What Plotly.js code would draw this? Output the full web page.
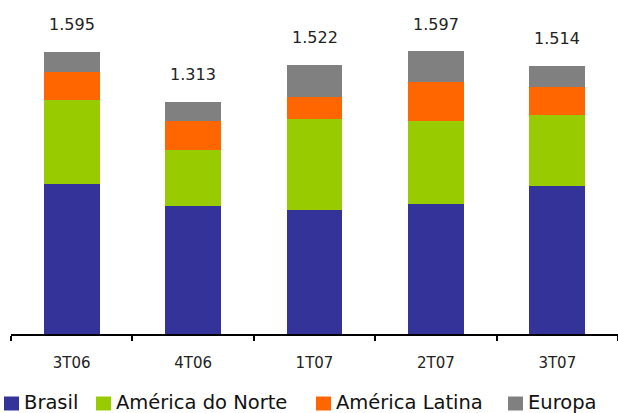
<!DOCTYPE html>
<html><head><meta charset="utf-8">
<script src="https://cdn.plot.ly/plotly-3.0.1.min.js"></script>
<style>html,body{margin:0;padding:0;background:#fff}#c{width:618px;height:413px}</style>
</head><body><div id="c"></div>
<script>
const categories = ['3T06','4T06','1T07','2T07','3T07'];
const brasil = [850, 725, 700, 735, 837];
const americaNorte = [474, 316, 517, 467, 401];
const americaLatina = [158, 162, 124, 222, 156];
const europa = [113, 109, 181, 173, 120];
const totals = [1595, 1313, 1522, 1597, 1514];
const totalLabels = ['1.595','1.313','1.522','1.597','1.514'];

const seriesNames = ['Brasil','América do Norte','América Latina','Europa'];
const seriesColors = ['#333399','#99CC00','#FF6600','#808080'];
const seriesValues = [brasil, americaNorte, americaLatina, europa];

// layout geometry (pixels)
const W = 618, H = 413, ML = 11, MR = 0, MT = 33, MB = 79;
const PW = W - ML - MR, PH = H - MT - MB;
const px2x = p => (p - ML) / PW;
const px2y = p => (H - MB - p) / PH;
const legendX = [4, 96, 316, 508];
const legendSq = 15, legendTop = 396.5, legendBot = 410.5, legendTextY = 402;

const traces = seriesValues.map((v,i)=>({
  type:'bar', name:seriesNames[i], x:categories, y:v,
  marker:{color:seriesColors[i], line:{width:0}}, hoverinfo:'skip', showlegend:false
}));

const annotations = categories.map((c,i)=>({
  x:c, y:totals[i], xref:'x', yref:'y', text:totalLabels[i], showarrow:false,
  yanchor:'middle', yshift:27, font:{family:'DejaVu Sans', size:16, color:'#222'}
}));
const shapes = [];
seriesNames.forEach((n,i)=>{
  shapes.push({type:'rect', xref:'paper', yref:'paper',
    x0:px2x(legendX[i]), x1:px2x(legendX[i]+legendSq), y0:px2y(legendBot), y1:px2y(legendTop),
    fillcolor:seriesColors[i], line:{width:0}});
  annotations.push({xref:'paper', yref:'paper', x:px2x(legendX[i]+legendSq+4), y:px2y(legendTextY),
    xanchor:'left', yanchor:'middle', text:n, showarrow:false, borderpad:0,
    font:{family:'DejaVu Sans', size:19.5, color:'#111'}});
});

const layout = {
  width:W, height:H, barmode:'stack', bargap:0.54,
  margin:{l:ML, r:MR, t:MT, b:MB},
  paper_bgcolor:'#fff', plot_bgcolor:'#fff',
  font:{family:'DejaVu Sans', color:'#222'},
  xaxis:{type:'category', range:[-0.5,4.5], showline:true, linecolor:'#000', linewidth:2,
    ticks:'outside', tickson:'boundaries', ticklen:5, tickwidth:2, tickcolor:'#000',
    ticklabelstandoff:14,
    tickfont:{family:'DejaVu Sans', size:15, color:'#222'}, showgrid:false, zeroline:false},
  yaxis:{range:[0,1700], visible:false, showgrid:false, zeroline:false},
  showlegend:false,
  shapes:shapes,
  annotations:annotations
};
Plotly.newPlot('c', traces, layout, {staticPlot:true, displayModeBar:false});
</script></body></html>
